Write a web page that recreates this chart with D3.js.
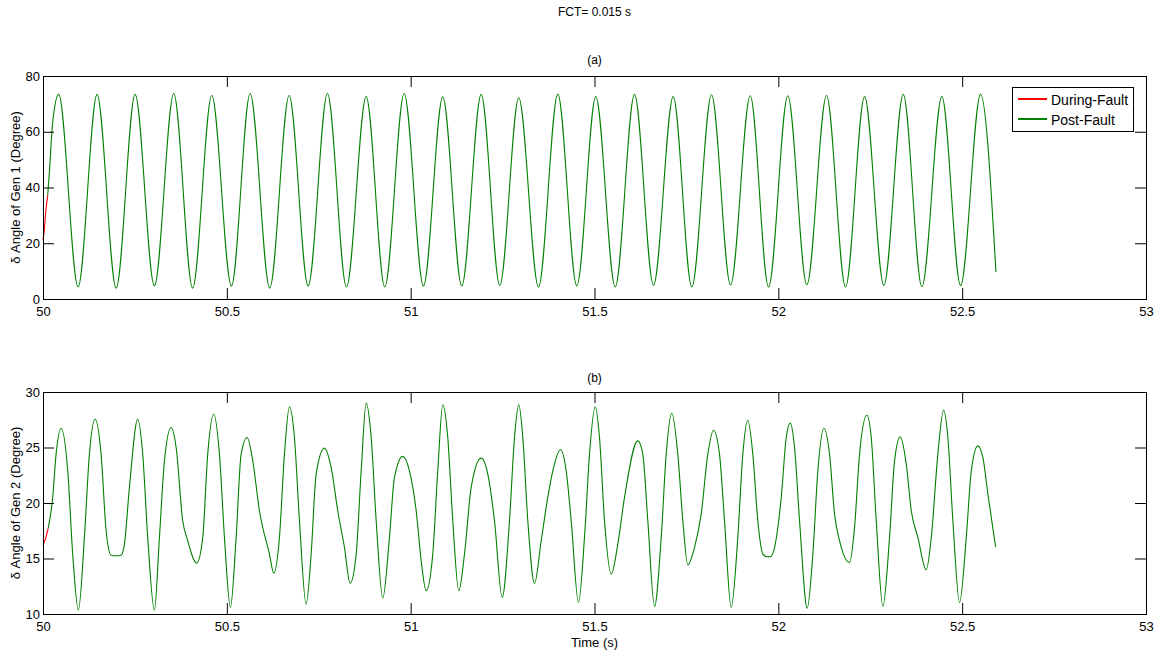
<!DOCTYPE html>
<html><head><meta charset="utf-8">
<script src="https://cdn.jsdelivr.net/npm/d3@7"></script>
<style>
body{margin:0;background:#fff}
svg text{font-family:"Liberation Sans",Arial,sans-serif;fill:#000}
</style></head>
<body><svg id="chart" width="1158" height="655"></svg>
<script>
// ---------- DATA (time in s, angle in degrees) ----------
const figureTitle = "FCT= 0.015 s";
const panelTitles = ["(a)", "(b)"];
const yLabels = ["\u03b4 Angle of Gen 1 (Degree)", "\u03b4 Angle of Gen 2 (Degree)"];
const xLabel = "Time (s)";
const legendLabels = ["During-Fault", "Post-Fault"];
const xTicks = [50, 50.5, 51, 51.5, 52, 52.5, 53];
const yTicksGen1 = [0, 20, 40, 60, 80];
const yTicksGen2 = [10, 15, 20, 25, 30];

const gen1DuringFault = [[50, 21.1], [50.003, 24.0], [50.0074, 31.2], [50.0128, 37.2]];
const gen1PostFault = [
  [50.0128, 37.2], [50.0174, 45.6], [50.0265, 63.6], [50.0427, 73.4],
  [50.0955, 4.3], [50.147, 73.4], [50.199, 3.9], [50.2505, 73.4], [50.303, 4.7],
  [50.3556, 73.7], [50.407, 3.9], [50.459, 73.0], [50.5125, 4.7], [50.5634, 73.7],
  [50.6167, 3.9], [50.6695, 73.0], [50.7212, 4.7], [50.7737, 73.7], [50.8254, 4.3],
  [50.879, 72.6], [50.9296, 4.3], [50.9823, 73.7], [51.0348, 4.7], [51.0873, 72.5],
  [51.139, 4.7], [51.1918, 73.4], [51.2424, 4.9], [51.294, 72.2], [51.3477, 4.3],
  [51.4002, 73.5], [51.4519, 4.7], [51.5035, 72.6], [51.5563, 4.3], [51.6088, 73.4],
  [51.6605, 4.9], [51.7141, 72.6], [51.7647, 4.3], [51.8183, 73.3], [51.87, 5.0],
  [51.9236, 72.9], [51.9734, 4.3], [52.0258, 72.9], [52.0775, 5.1], [52.1311, 73.0],
  [52.1828, 4.3], [52.2345, 72.6], [52.287, 4.9], [52.3398, 73.4], [52.3904, 4.4],
  [52.4448, 72.6], [52.4957, 4.8], [52.5501, 73.4], [52.5918, 9.7]
];

const gen2DuringFault = [[50, 16.2], [50.006, 16.7], [50.014, 17.7]];
const gen2PostFault = [
  [50.014,17.7],[50.0264,20.5],[50.0356,24.4],[50.0492,26.74],[50.0673,22.9],[50.0808,15.39],
  [50.0963,10.34],[50.1126,16.9],[50.1262,24.4],[50.1417,27.55],[50.158,24.4],[50.1717,17.5],
  [50.1853,15.3],[50.199,15.25],[50.2125,15.3],[50.2215,16.29],[50.235,21.4],[50.2577,27.55],
  [50.2712,24.4],[50.2848,16.9],[50.303,10.34],[50.3167,16.9],[50.3303,23.8],[50.3485,26.8],
  [50.3621,25.0],[50.38,18.4],[50.3936,16.6],[50.4181,14.58],[50.4345,16.9],[50.448,24.4],
  [50.4644,28.0],[50.4799,24.4],[50.4935,16.9],[50.5098,10.59],[50.5253,16.9],[50.5389,24.4],
  [50.5552,25.9],[50.5705,23.8],[50.5887,19.3],[50.6159,15.39],[50.6276,13.68],[50.6431,16.9],
  [50.6567,24.4],[50.6703,28.67],[50.6839,25.9],[50.6975,18.4],[50.7157,10.88],[50.7293,15.39],
  [50.7429,22.6],[50.7655,24.94],[50.7837,23.2],[50.8017,19.3],[50.8199,16.0],[50.8354,12.77],
  [50.8518,15.39],[50.8654,22.9],[50.879,29.0],[50.8926,25.9],[50.9062,18.4],[50.9241,11.42],
  [50.9423,16.9],[50.9559,22.3],[50.9786,24.2],[50.9967,22.9],[51.015,19.3],[51.0286,14.79],
  [51.0422,12.09],[51.0601,15.39],[51.0737,22.9],[51.0874,28.85],[51.1009,25.9],[51.1145,18.4],
  [51.1309,12.09],[51.1464,15.39],[51.1646,21.4],[51.1918,24.04],[51.2098,22.6],[51.228,18.4],
  [51.2489,11.49],[51.2688,18.4],[51.2824,25.9],[51.2941,28.85],[51.305,25.9],[51.3186,18.4],
  [51.3368,12.75],[51.355,16.6],[51.3729,20.5],[51.3866,22.9],[51.4075,24.8],[51.423,22.9],
  [51.4366,18.4],[51.4565,11.04],[51.4728,16.9],[51.4864,24.4],[51.5019,28.67],[51.5136,25.9],
  [51.5272,18.4],[51.5455,13.59],[51.5634,16.29],[51.5816,20.5],[51.6178,25.6],[51.6314,24.4],
  [51.645,18.4],[51.6632,10.68],[51.6815,16.9],[51.695,24.4],[51.7103,28.09],[51.7266,24.4],
  [51.7402,18.4],[51.7538,14.43],[51.772,16.0],[51.7902,19.0],[51.8082,24.4],[51.8237,26.56],
  [51.84,24.4],[51.8536,18.4],[51.8718,10.59],[51.8898,16.9],[51.9034,24.4],[51.917,27.46],
  [51.9306,24.4],[51.9442,18.4],[51.9578,15.39],[51.9665,15.18],[51.9733,15.15],[51.98,15.18],
  [51.9897,16.0],[52.0079,20.5],[52.0215,25.9],[52.0324,27.2],[52.0441,25.0],[52.0577,18.4],
  [52.0786,10.52],[52.0939,15.39],[52.1075,22.9],[52.1238,26.74],[52.1393,24.4],[52.1529,19.0],
  [52.1665,16.6],[52.1937,14.64],[52.2073,17.8],[52.2209,24.4],[52.2408,27.9],[52.2527,25.9],
  [52.2663,18.4],[52.2843,10.68],[52.3025,16.9],[52.3161,23.8],[52.3316,25.96],[52.348,23.5],
  [52.3616,19.3],[52.3795,16.9],[52.4024,13.98],[52.416,16.9],[52.4339,24.4],[52.4494,28.36],
  [52.4611,25.9],[52.4747,18.4],[52.4929,11.04],[52.5112,16.9],[52.5248,22.9],[52.5427,25.15],
  [52.5563,24.1],[52.57,20.8],[52.5909,16.05]
];

// ---------- STYLE / LAYOUT ----------
const colorDuring = "#ff0000";
const colorPost = "#008000";
const svg = d3.select("#chart");
const xLeft = 43, xRight = 1146;
const panels = [
  {top: 76, bottom: 299, domain: [0, 80], ticks: yTicksGen1, during: gen1DuringFault, post: gen1PostFault,
   title: panelTitles[0], ylabel: yLabels[0], titleY: 64, legend: true},
  {top: 392, bottom: 614, domain: [10, 30], ticks: yTicksGen2, during: gen2DuringFault, post: gen2PostFault,
   title: panelTitles[1], ylabel: yLabels[1], titleY: 382, legend: false}
];

const x = d3.scaleLinear().domain([50, 53]).range([xLeft, xRight]);
const fmt = d => String(d);

svg.append("text").attr("x", (xLeft + xRight) / 2).attr("y", 16)
  .attr("text-anchor", "middle").style("font-size", "12px").text(figureTitle);

panels.forEach((p, i) => {
  const y = d3.scaleLinear().domain(p.domain).range([p.bottom, p.top]);
  const g = svg.append("g");

  // data lines
  const line = d3.line().x(d => x(d[0])).y(d => y(d[1])).curve(d3.curveMonotoneX);
  g.append("path").datum(p.post).attr("d", line)
    .attr("fill", "none").attr("stroke", colorPost).attr("stroke-width", 1.1);
  g.append("path").datum(p.during).attr("d", line)
    .attr("fill", "none").attr("stroke", colorDuring).attr("stroke-width", 1.1);

  // frame
  g.append("rect").attr("x", xLeft + 0.5).attr("y", p.top + 0.5)
    .attr("width", xRight - xLeft).attr("height", p.bottom - p.top)
    .attr("fill", "none").attr("stroke", "#000").attr("stroke-width", 1);

  // axes with inward ticks
  const ax = g.append("g").attr("transform", `translate(0,${p.bottom})`)
    .call(d3.axisBottom(x).tickValues(xTicks).tickFormat(fmt).tickSizeInner(-11).tickSizeOuter(0).tickPadding(8));
  g.append("g").attr("transform", `translate(0,${p.top})`)
    .call(d3.axisTop(x).tickValues(xTicks).tickFormat("").tickSizeInner(-11).tickSizeOuter(0));
  const ay = g.append("g").attr("transform", `translate(${xLeft},0)`)
    .call(d3.axisLeft(y).tickValues(p.ticks).tickFormat(fmt).tickSizeInner(-11).tickSizeOuter(0).tickPadding(3));
  g.append("g").attr("transform", `translate(${xRight},0)`)
    .call(d3.axisRight(y).tickValues(p.ticks).tickFormat("").tickSizeInner(-11).tickSizeOuter(0));
  g.selectAll(".domain").remove();
  g.selectAll(".tick line").attr("stroke", "#000");
  g.selectAll(".tick text").style("font-size", "13px").attr("fill", "#000");

  // titles
  svg.append("text").attr("x", (xLeft + xRight) / 2).attr("y", p.titleY)
    .attr("text-anchor", "middle").style("font-size", "12px").text(p.title);
  svg.append("text").attr("transform", `translate(19.5,${(p.top + p.bottom) / 2}) rotate(-90)`)
    .attr("text-anchor", "middle").style("font-size", "13px").text(p.ylabel);

  if (p.legend) {
    const lg = svg.append("g");
    lg.append("rect").attr("x", 1012.5).attr("y", 87.5).attr("width", 121).attr("height", 44)
      .attr("fill", "#fff").attr("stroke", "#000");
    [colorDuring, colorPost].forEach((c, k) => {
      const yy = 99 + k * 20;
      lg.append("line").attr("x1", 1018).attr("x2", 1047).attr("y1", yy).attr("y2", yy)
        .attr("stroke", c).attr("stroke-width", 2);
      lg.append("text").attr("x", 1051).attr("y", yy + 6).style("font-size", "14px").text(legendLabels[k]);
    });
  }
});

svg.append("text").attr("x", (xLeft + xRight) / 2).attr("y", 647)
  .attr("text-anchor", "middle").style("font-size", "13px").text(xLabel);
</script>
</body></html>
